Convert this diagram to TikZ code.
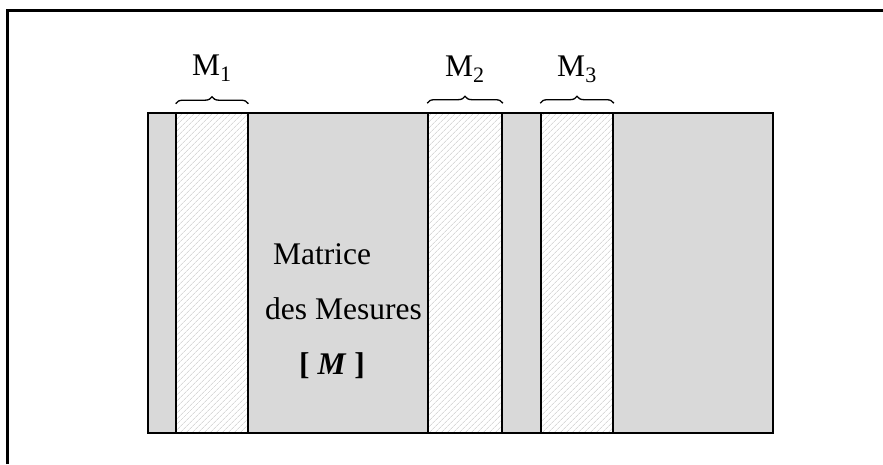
\documentclass[tikz,border=0pt]{standalone}
\usepackage{fontspec}
\setmainfont{Liberation Serif}
\usepackage{tikz}
\usetikzlibrary{patterns.meta,decorations.pathreplacing,positioning}
\tikzstyle{cadre}=[line width=3pt]
\tikzstyle{matrice}=[draw=black, fill=gray!30, line width=1.6pt, inner sep=0pt, minimum width=625pt, minimum height=320pt]
\tikzstyle{mesure}=[draw=black, line width=1.6pt, inner sep=0pt, minimum height=320pt, preaction={fill=white}, pattern={Lines[angle=45,distance=4pt,line width=0.6pt]}, pattern color=gray!45]
\tikzstyle{accolade}=[line width=1.3pt, decorate, decoration={brace, amplitude=7pt}]
\tikzstyle{texte}=[inner sep=0pt, font=\fontsize{31.5}{38}\selectfont]

\begin{document}
\begin{tikzpicture}
[x=1pt, y=-1pt]
\useasboundingbox (0,0) rectangle (883,464);
% cadre (haut et gauche)
\coordinate (hg) at (7,10);
\coordinate (hd) at (883,10);
\coordinate (bg) at (7,464);
\draw[cadre] (bg) -- (hg) -- (hd);
% matrice des mesures
\node[matrice] (mat) at (460.5,273) {};
\node[mesure, minimum width=72pt] (m1) at (212,273) {};
\node[mesure, minimum width=74pt] (m2) at (465,273) {};
\node[mesure, minimum width=72pt] (m3) at (577,273) {};
% accolades
\draw[accolade] ([yshift=9pt]m1.north west) -- ([yshift=9pt]m1.north east);
\draw[accolade] ([yshift=9pt]m2.north west) -- ([yshift=9pt]m2.north east);
\draw[accolade] ([yshift=9pt]m3.north west) -- ([yshift=9pt]m3.north east);
\node[texte, anchor=base] (l1) at ([yshift=37pt]m1.north) {M\textsubscript{1}};
\node[texte, anchor=base] (l2) at ([yshift=36pt]m2.north) {M\textsubscript{2}};
\node[texte, anchor=base] (l3) at ([yshift=36pt]m3.north) {M\textsubscript{3}};
% texte
\node[texte, anchor=base west] (t1) at (273,264) {Matrice};
\node[texte, anchor=base west] (t2) at (265,319) {des Mesures};
\node[texte, anchor=base west] (t3) at (299,374) {\textbf{[ \textit{M} ]}};
\end{tikzpicture}
\end{document}
